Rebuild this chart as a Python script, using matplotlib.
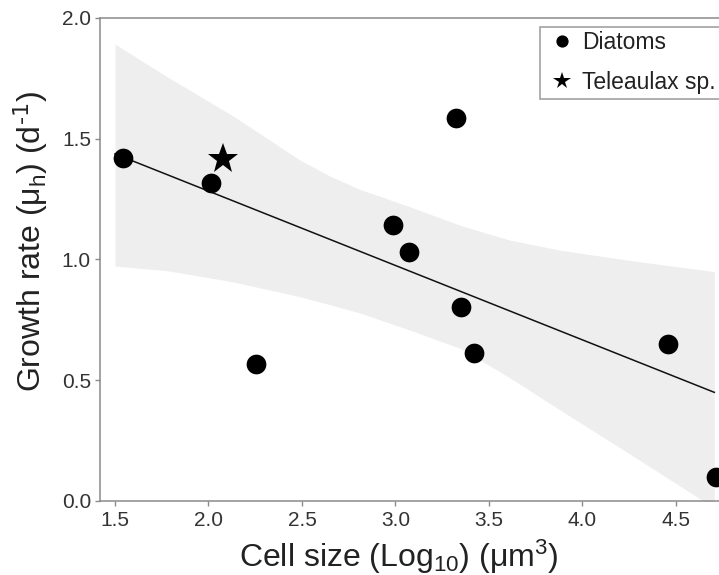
import matplotlib
matplotlib.use("Agg")
import matplotlib.pyplot as plt
from matplotlib.lines import Line2D

plt.rcParams['font.family'] = ['Liberation Sans', 'DejaVu Sans']
plt.rcParams['mathtext.default'] = 'regular'

# Diatom data (log10 cell size, growth rate)
diatom_x = [1.541, 2.012, 2.252, 2.988, 3.072, 3.324, 3.350, 3.421, 4.459, 4.714]
diatom_y = [1.422, 1.315, 0.566, 1.142, 1.029, 1.584, 0.804, 0.613, 0.650, 0.099]

# Teleaulax sp.
tele_x = [2.075]
tele_y = [1.416]

# Regression line end points
fit_x = [1.50, 4.705]
fit_y = [1.437, 0.449]

# Confidence band
band_x = [1.50, 1.78, 2.13, 2.49, 2.65, 2.81, 3.08, 3.35, 3.61, 3.88, 4.24, 4.705]
band_upper = [1.892, 1.756, 1.595, 1.411, 1.345, 1.290, 1.217, 1.140, 1.080, 1.038, 0.997, 0.949]
band_lower = [0.972, 0.953, 0.907, 0.845, 0.812, 0.778, 0.706, 0.630, 0.510, 0.376, 0.200, -0.030]

x_ticks = [1.5, 2.0, 2.5, 3.0, 3.5, 4.0, 4.5]
y_ticks = [0.0, 0.5, 1.0, 1.5, 2.0]

fig = plt.figure(figsize=(7.19, 5.75), dpi=100)
ax = fig.add_axes([0.1391, 0.1292, 0.8791, 0.8395])

spine_c = '#8a8a8a'
ax.fill_between(band_x, band_lower, band_upper, color='#eeeeee', linewidth=0, zorder=1)
ax.plot(fit_x, fit_y, color='#111111', linewidth=1.1, zorder=2)
ax.plot(diatom_x, diatom_y, linestyle='none', marker='o', ms=14.2, color='black',
        mew=0, zorder=3)
ax.plot(tele_x, tele_y, linestyle='none', marker='*', ms=23, color='black', mew=0, zorder=3)

ax.set_xlim(1.42, 4.80)
ax.set_ylim(0.0, 2.0)
ax.set_xticks(x_ticks)
ax.set_yticks(y_ticks)
ax.set_xticklabels([f"{v:.1f}" for v in x_ticks])
ax.set_yticklabels([f"{v:.1f}" for v in y_ticks])

for s in ['left', 'bottom', 'top', 'right']:
    ax.spines[s].set_color(spine_c)
    ax.spines[s].set_linewidth(1.1)
ax.tick_params(axis='both', colors=spine_c, labelcolor='#333333', labelsize=15,
               length=3.5, width=1.0, direction='out')
ax.tick_params(axis='x', pad=4)
ax.tick_params(axis='y', pad=3)

ax.set_xlabel(r'Cell size (Log$_{10}$) ($\mu$m$^{3}$)', fontsize=23, color='#222222')
ax.set_ylabel(r'Growth rate ($\mu_{h}$) (d$^{\text{-1}}$)', fontsize=23, color='#222222')
ax.xaxis.set_label_coords((398.5 - 100) / 632.0, -0.076)
ax.yaxis.set_label_coords(-0.079, 0.537)

handles = [
    Line2D([], [], linestyle='none', marker='o', ms=8.8, color='black', mew=0),
    Line2D([], [], linestyle='none', marker='*', ms=13, color='black', mew=0),
]
leg = fig.legend(handles, ['Diatoms', 'Teleaulax sp.'], loc='upper left',
                 bbox_to_anchor=(540 / 719, 1 - 26.7 / 575), bbox_transform=fig.transFigure,
                 fontsize=16.5, frameon=True, fancybox=False, borderpad=0.2,
                 handlelength=1.5, handletextpad=0.15, labelspacing=0.75,
                 borderaxespad=0)
leg.get_frame().set_edgecolor(spine_c)
leg.get_frame().set_linewidth(1.2)
for t in leg.get_texts():
    t.set_color('#222222')

fig.savefig('out.png', dpi=100)
